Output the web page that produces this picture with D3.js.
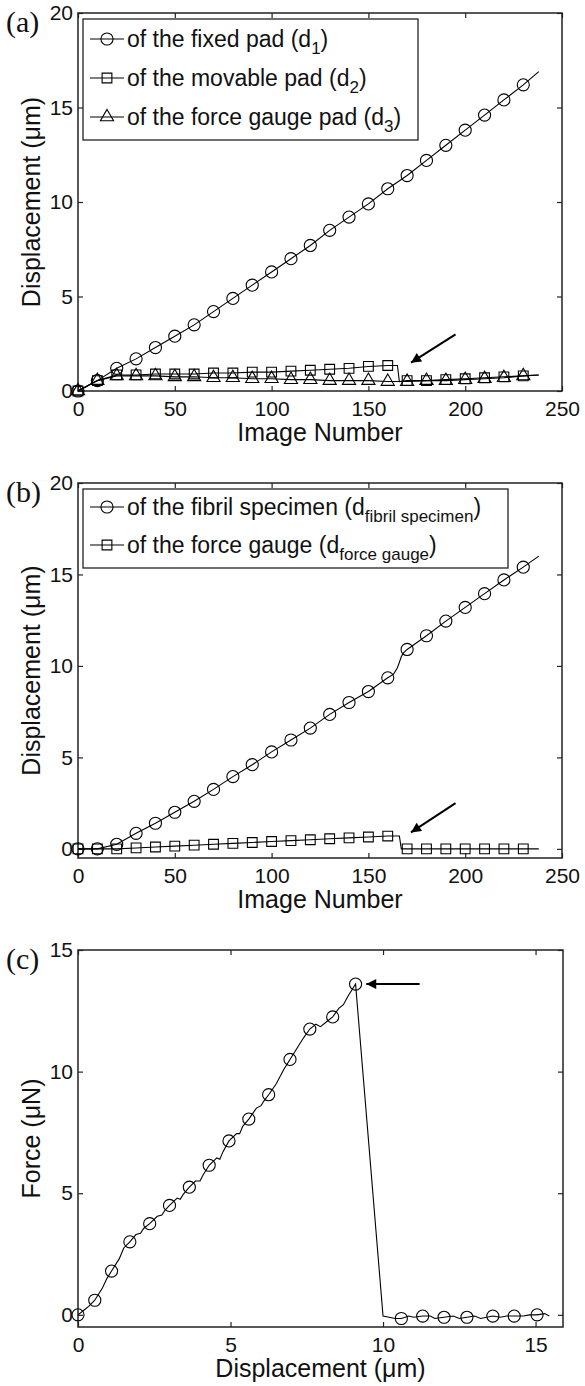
<!DOCTYPE html>
<html>
<head>
<meta charset="utf-8">
<script src="https://cdn.jsdelivr.net/npm/d3@7"></script>
<style>
body{margin:0;background:#fff;}
svg text{font-family:"Liberation Sans",Arial,Helvetica,sans-serif;}
</style>
</head>
<body>
<script>

// (a) displacement of the pads, markers every 10 images
var imgNum = [0,10,20,30,40,50,60,70,80,90,100,110,120,130,140,150,160,170,180,190,200,210,220,230];
var fixedPad   = [0,0.55,1.2,1.7,2.3,2.9,3.5,4.2,4.9,5.6,6.3,7.0,7.7,8.5,9.2,9.9,10.7,11.4,12.2,13.0,13.8,14.6,15.4,16.2];
var movablePad = [0,0.55,0.85,0.85,0.9,0.9,0.9,0.95,0.95,1.0,1.0,1.05,1.1,1.15,1.2,1.3,1.35,0.55,0.55,0.6,0.65,0.7,0.75,0.8];
var gaugePad   = [0,0.55,0.8,0.8,0.8,0.75,0.75,0.7,0.7,0.65,0.65,0.6,0.6,0.55,0.55,0.55,0.5,0.5,0.55,0.55,0.6,0.65,0.7,0.8];
// line points that have no marker (the drop and the end of each line)
var fixedPadExtra   = [[238,16.9]];
var movablePadExtra = [[165,1.35],[166,0.5],[238,0.85]];
var gaugePadExtra   = [[238,0.85]];

// (b) fibril specimen / force gauge
var fibril     = [0,0,0.25,0.85,1.4,2.0,2.6,3.25,3.95,4.6,5.3,5.95,6.6,7.35,8.0,8.6,9.35,10.9,11.65,12.45,13.2,13.95,14.7,15.4];
var forceGauge = [0,0,0,0.05,0.1,0.15,0.2,0.25,0.3,0.35,0.4,0.45,0.5,0.55,0.6,0.65,0.7,0,0,0,0,0,0,0];
var fibrilExtra     = [[163,9.55],[165,9.9],[167,10.5],[168,10.7],[238,16.0]];
var forceGaugeExtra = [[166,0.7],[167,0],[238,0]];

// (c) force vs displacement
var dispMarks  = [0,0.55,1.1,1.7,2.35,3.0,3.65,4.3,4.95,5.6,6.25,6.95,7.6,8.35,9.1,10.6,11.3,12.0,12.75,13.6,14.3,15.05];
var forceMarks = [0,0.6,1.8,3.0,3.75,4.5,5.25,6.15,7.15,8.05,9.05,10.5,11.75,12.25,13.6,-0.15,-0.05,-0.1,-0.1,-0.05,-0.05,0];
var dispLine  = [0,0.2,0.35,0.55,0.8,0.95,1.1,1.35,1.5,1.7,1.9,2.05,2.15,2.35,2.6,2.75,2.85,3.0,3.25,3.35,3.45,3.65,3.85,4.0,4.1,4.3,4.55,4.65,4.75,4.95,5.2,5.3,5.4,5.6,5.85,6.0,6.1,6.25,6.5,6.75,6.95,7.2,7.4,7.6,7.8,7.95,8.15,8.35,8.55,8.7,8.85,9.1,10.0,10.2,10.4,10.6,10.85,11.0,11.3,11.55,11.7,12.0,12.3,12.5,12.75,13.0,13.2,13.6,13.85,14.05,14.3,14.6,14.8,15.05,15.3,15.45];
var forceLine = [0,0.2,0.35,0.6,1.1,1.5,1.8,2.3,2.75,3.0,3.3,3.35,3.55,3.75,4.05,4.1,4.3,4.5,4.8,4.75,4.95,5.25,5.5,5.5,5.75,6.15,6.45,6.4,6.7,7.15,7.45,7.45,7.75,8.05,8.5,8.6,8.8,9.05,9.5,10.1,10.5,11.0,11.4,11.75,11.95,11.85,12.05,12.25,12.6,12.75,13.1,13.6,-0.05,-0.1,-0.15,-0.15,-0.05,-0.1,-0.05,-0.05,-0.15,-0.1,-0.05,-0.15,-0.1,-0.05,-0.15,-0.05,-0.1,-0.05,-0.05,-0.05,0,0,0.05,-0.05];

var imgTicks = [0,50,100,150,200,250];
var dispTicks = [0,5,10,15,20];
var dispTicksC = [0,5,10,15];
var forceTicks = [0,5,10,15];

var legendA = ['of the fixed pad (d|1|)','of the movable pad (d|2|)','of the force gauge pad (d|3|)'];
var legendB = ['of the fibril specimen (d|fibril specimen|)','of the force gauge (d|force gauge|)'];

var svg = d3.select('body').append('svg')
  .attr('width',585).attr('height',1386);

svg.append('defs').append('marker')
  .attr('id','ah').attr('viewBox','0 0 10 10')
  .attr('refX',10).attr('refY',5)
  .attr('markerWidth',20).attr('markerHeight',10)
  .attr('markerUnits','userSpaceOnUse')
  .attr('orient','auto')
  .append('path').attr('d','M0,0L10,5L0,10z').attr('fill','#000');

var symType = {o:d3.symbolCircle, s:d3.symbolSquare, t:d3.symbolTriangle};
var symSize = {o:115, s:95, t:75};

function pairs(xs,ys){ return xs.map((v,i)=>[v,ys[i]]) }

var drawPanel = (p)=>{
  var x = d3.scaleLinear().domain(p.xDom).range([p.left,p.right]);
  var y = d3.scaleLinear().domain(p.yDom).range([p.bottom,p.top]);
  var g = svg.append('g');

  var axes = [
    [d3.axisBottom(x).tickValues(p.xTicks).tickPadding(10), 'translate(0,'+p.bottom+')'],
    [d3.axisTop(x).tickValues(p.xTicks).tickFormat(''), 'translate(0,'+p.top+')'],
    [d3.axisLeft(y).tickValues(p.yTicks).tickPadding(5), 'translate('+p.left+',0)'],
    [d3.axisRight(y).tickValues(p.yTicks).tickFormat(''), 'translate('+p.right+',0)']
  ];
  axes.forEach(a=>{
    var ax = g.append('g').attr('transform',a[1])
      .call(a[0].tickSizeInner(-5).tickSizeOuter(0));
    ax.select('.domain').remove();
    ax.attr('font-size',21).attr('font-family','"Liberation Sans",Arial,sans-serif');
    ax.selectAll('line').attr('stroke','#222').attr('stroke-width',1.2);
    ax.selectAll('text').attr('fill','#111');
  });

  g.append('rect')
    .attr('x',p.left).attr('y',p.top)
    .attr('width',p.right-p.left).attr('height',p.bottom-p.top)
    .attr('fill','none').attr('stroke','#222').attr('stroke-width',1.5);

  var line = d3.line().x(d=>x(d[0])).y(d=>y(d[1]));
  p.series.forEach(s=>{
    var pts = s.marks.concat(s.extra||[]).sort((a,b)=>a[0]-b[0]);
    if (s.linePts) pts = s.linePts;
    g.append('path').attr('d',line(pts))
      .attr('fill','none').attr('stroke','#000').attr('stroke-width',1.1);
    g.selectAll(null).data(s.marks).enter().append('path')
      .attr('d',d3.symbol().type(symType[s.sym]).size(symSize[s.sym]))
      .attr('transform',d=>'translate('+x(d[0])+','+y(d[1])+')')
      .attr('fill','none').attr('stroke','#000').attr('stroke-width',1.1);
  });

  // arrow
  g.append('line')
    .attr('x1',x(p.arrow[0][0])).attr('y1',y(p.arrow[0][1]))
    .attr('x2',x(p.arrow[1][0])).attr('y2',y(p.arrow[1][1]))
    .attr('stroke','#000').attr('stroke-width',2)
    .attr('marker-end','url(#ah)');

  // axis titles
  g.append('text')
    .attr('x',(p.left+p.right)/2).attr('y',p.bottom+50)
    .attr('text-anchor','middle').attr('font-size',25).attr('fill','#111')
    .text(p.xTitle);
  g.append('text')
    .attr('transform','translate(31,'+((p.top+p.bottom)/2)+') rotate(-90)')
    .attr('dy','0.35em')
    .attr('text-anchor','middle').attr('font-size',25).attr('fill','#111')
    .text(p.yTitle);

  // panel letter
  g.append('text')
    .attr('x',6).attr('y',p.top+19)
    .style('font-family','"Liberation Serif","Times New Roman",serif')
    .attr('font-size',30).attr('fill','#111')
    .text(p.letter);

  // legend
  if (p.legend){
    var L = p.legend;
    g.append('rect')
      .attr('x',L.x).attr('y',L.y).attr('width',L.w).attr('height',L.h)
      .attr('fill','#fff').attr('stroke','#222').attr('stroke-width',1.3);
    L.items.forEach((txt,i)=>{
      var ry = L.y + L.first + i*L.step;
      g.append('line').attr('x1',L.x+7).attr('x2',L.x+41)
        .attr('y1',ry).attr('y2',ry).attr('stroke','#000').attr('stroke-width',1.1);
      g.append('path')
        .attr('d',d3.symbol().type(symType[L.syms[i]]).size(symSize[L.syms[i]]))
        .attr('transform','translate('+(L.x+24)+','+ry+')')
        .attr('fill','none').attr('stroke','#000').attr('stroke-width',1.1);
      var parts = txt.split('|');
      var t = g.append('text').attr('x',L.x+44).attr('y',ry+8)
        .attr('font-size',23).attr('fill','#111');
      t.append('tspan').text(parts[0]);
      t.append('tspan').attr('font-size',17).attr('dy',7).text(parts[1]);
      t.append('tspan').attr('dy',-7).text(parts[2]);
    });
  }
}

drawPanel({
  left:78, right:562, top:13, bottom:391,
  xDom:[0,250], yDom:[0,20], xTicks:imgTicks, yTicks:dispTicks,
  xTitle:'Image Number', yTitle:'Displacement (\u03bcm)', letter:'(a)',
  series:[
    {sym:'o', marks:pairs(imgNum,fixedPad), extra:fixedPadExtra},
    {sym:'s', marks:pairs(imgNum,movablePad), extra:movablePadExtra},
    {sym:'t', marks:pairs(imgNum,gaugePad), extra:gaugePadExtra}
  ],
  arrow:[[195,3.0],[172,1.5]],
  legend:{x:83, y:19, w:335, h:121, first:20, step:39, items:legendA, syms:['o','s','t']}
});

drawPanel({
  left:78, right:562, top:483, bottom:858,
  xDom:[0,250], yDom:[-0.5,20], xTicks:imgTicks, yTicks:dispTicks,
  xTitle:'Image Number', yTitle:'Displacement (\u03bcm)', letter:'(b)',
  series:[
    {sym:'o', marks:pairs(imgNum,fibril), extra:fibrilExtra},
    {sym:'s', marks:pairs(imgNum,forceGauge), extra:forceGaugeExtra}
  ],
  arrow:[[195,2.5],[172,0.9]],
  legend:{x:83, y:489, w:425, h:79, first:18, step:38, items:legendB, syms:['o','s']}
});

drawPanel({
  left:78, right:563, top:950, bottom:1327,
  xDom:[0,15.9], yDom:[-0.5,15], xTicks:dispTicksC, yTicks:forceTicks,
  xTitle:'Displacement (\u03bcm)', yTitle:'Force (\u03bcN)', letter:'(c)',
  series:[
    {sym:'o', marks:pairs(dispMarks,forceMarks), linePts:pairs(dispLine,forceLine)}
  ],
  arrow:[[11.2,13.6],[9.45,13.6]],
  legend:null
});

</script>
</body>
</html>
